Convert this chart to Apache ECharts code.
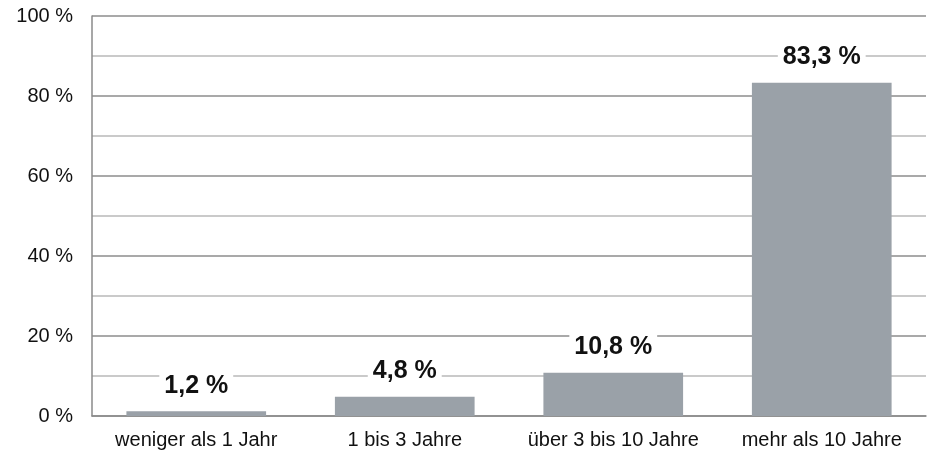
<!DOCTYPE html>
<html><head><meta charset="utf-8">
<script src="https://cdn.jsdelivr.net/npm/echarts@6/dist/echarts.min.js"></script>
<style>html,body{margin:0;padding:0;background:#fff}#c{width:942px;height:462px}</style>
</head><body><div id="c"></div>
<script>
const categories = ['weniger als 1 Jahr', '1 bis 3 Jahre', 'über 3 bis 10 Jahre', 'mehr als 10 Jahre'];
const values = [1.2, 4.8, 10.8, 83.3];
const yTicks = [0, 20, 40, 60, 80, 100];

const chart = echarts.init(document.getElementById('c'));
chart.setOption({
  animation: false,
  grid: { left: 92, right: 16, top: 16, bottom: 46 },
  xAxis: {
    type: 'category', data: categories,
    axisLine: { lineStyle: { color: '#8a8a8a', width: 1.5 } },
    axisTick: { show: false },
    axisLabel: { interval: 0, color: '#111', fontFamily: 'Arial, Liberation Sans', fontSize: 20, margin: 14 }
  },
  yAxis: {
    type: 'value', min: 0, max: 100, interval: 10,
    axisLine: { show: true, lineStyle: { color: '#8a8a8a', width: 1.5 } },
    axisTick: { show: false },
    axisLabel: {
      color: '#111', fontFamily: 'Arial, Liberation Sans', fontSize: 20, margin: 19,
      formatter: v => yTicks.includes(v) ? v + ' %' : ''
    },
    splitLine: { lineStyle: { color: ['#8c8c8c', '#b8b8b8'], width: 1.5 } }
  },
  series: [{
    type: 'bar', data: values, barWidth: '67%',
    itemStyle: { color: '#9aa1a8' },
    label: {
      show: true, position: 'top', distance: 13,
      formatter: p => p.value.toFixed(1).replace('.', ',') + ' %',
      fontFamily: 'Arial, Liberation Sans', fontWeight: 'bold', fontSize: 25, color: '#111',
      backgroundColor: '#fff', padding: [0, 5]
    }
  }]
});
</script></body></html>
